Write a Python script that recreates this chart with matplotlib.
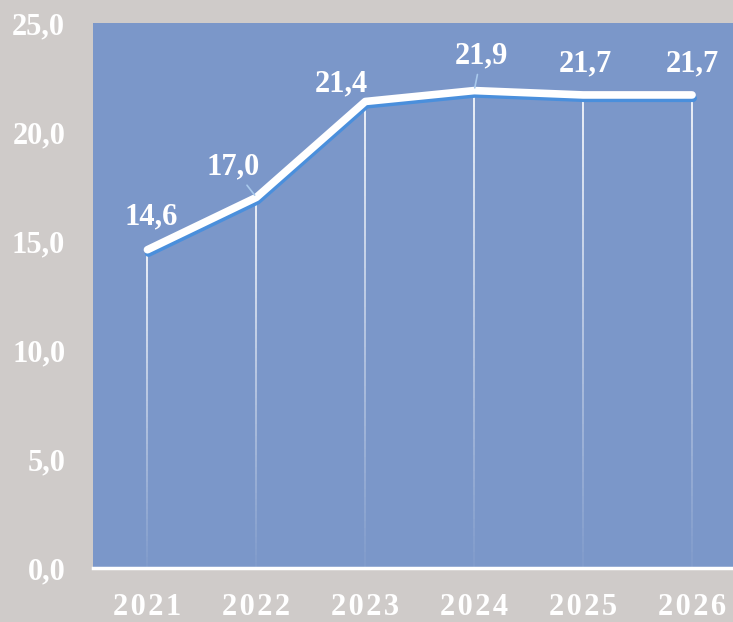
import numpy as np
import matplotlib
matplotlib.use('Agg')
from matplotlib import pyplot as plt
from matplotlib import patheffects as pe
from matplotlib.collections import LineCollection

years = ['2021', '2022', '2023', '2024', '2025', '2026']
values = [14.6, 17.0, 21.4, 21.9, 21.7, 21.7]
labels = ['14,6', '17,0', '21,4', '21,9', '21,7', '21,7']
yticks = [0, 5, 10, 15, 20, 25]
ytick_labels = ['0,0', '5,0', '10,0', '15,0', '20,0', '25,0']

# label offsets in points (dx, dy) and whether a leader line is drawn
label_offsets = [(3, 23.5), (-17, 22), (-17, 13), (5, 25), (1.5, 22), (0.5, 22)]
leaders = [False, True, False, True, False, False]

plt.rcParams['font.family'] = ['Liberation Serif', 'DejaVu Serif']

fig = plt.figure(figsize=(7.33, 6.22), dpi=100, facecolor='#cfcbc9')
ax = fig.add_axes([93 / 733, 54 / 622, 653.5 / 733, 545 / 622])
ax.set_facecolor('#7b97c9')

x = np.arange(len(years))

# fading drop lines
for xi, v in zip(x, values):
    ys = np.linspace(0, v, 60)
    segs = [[(xi, ys[i]), (xi, ys[i + 1])] for i in range(len(ys) - 1)]
    alphas = np.linspace(0.05, 1.0, len(segs))
    cols = [(1, 1, 1, a) for a in alphas]
    ax.add_collection(LineCollection(segs, colors=cols, linewidths=1.2, zorder=2))

ax.plot(x, values, color='white', lw=5.5, solid_capstyle='round', zorder=4,
        path_effects=[pe.SimpleLineShadow(offset=(0.8, -2.4), shadow_color='#4a8fdc',
                                          alpha=1.0), pe.Normal()])

for xi, v, lab, off, ld in zip(x, values, labels, label_offsets, leaders):
    props = dict(arrowstyle='-', color='#a9c9ec', lw=1.2, shrinkA=1, shrinkB=2) if ld else None
    ax.annotate(lab, (xi, v), xytext=off, textcoords='offset points',
                ha='center', va='center', fontsize=22, fontweight='bold',
                color='white', arrowprops=props, zorder=5)

ax.set_xlim(-0.5, 5.5)
ax.set_ylim(0, 25)
ax.set_xticks(x)
ax.set_xticklabels(['\u200a'.join(y) for y in years])
ax.set_yticks(yticks)
ax.set_yticklabels(ytick_labels)
ax.tick_params(length=0)
ax.tick_params(axis='y', pad=20, labelsize=22, labelcolor='white')
ax.tick_params(axis='x', pad=18, labelsize=22, labelcolor='white')
for t in ax.get_xticklabels() + ax.get_yticklabels():
    t.set_fontweight('bold')

for s in ['top', 'right', 'left']:
    ax.spines[s].set_visible(False)
ax.spines['bottom'].set_color('white')
ax.spines['bottom'].set_linewidth(2.5)

fig.savefig('out.png', dpi=100, facecolor=fig.get_facecolor())
